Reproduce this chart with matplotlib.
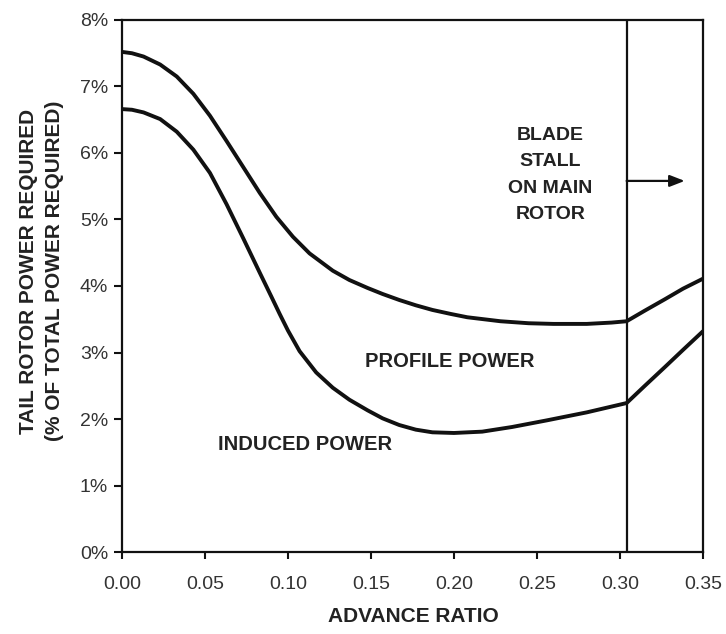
import matplotlib
matplotlib.use("Agg")
import matplotlib.pyplot as plt
from matplotlib.ticker import FuncFormatter

plt.rcParams['font.family'] = ['Liberation Sans', 'DejaVu Sans']

# Advance ratio samples and tail rotor power (% of total power)
total_mu = [0.000, 0.006, 0.013, 0.023, 0.033, 0.043, 0.053, 0.063, 0.073, 0.083,
            0.093, 0.103, 0.113, 0.127, 0.137, 0.148, 0.157, 0.167, 0.177, 0.187,
            0.198, 0.208, 0.218, 0.228, 0.245, 0.260, 0.280, 0.295, 0.304, 0.315,
            0.327, 0.338, 0.350]
total_pct = [7.52, 7.50, 7.45, 7.33, 7.15, 6.89, 6.56, 6.18, 5.79, 5.40,
             5.04, 4.74, 4.49, 4.23, 4.09, 3.97, 3.88, 3.79, 3.71, 3.64,
             3.58, 3.53, 3.50, 3.47, 3.44, 3.43, 3.43, 3.45, 3.47, 3.63,
             3.80, 3.96, 4.11]

induced_mu = [0.000, 0.006, 0.013, 0.023, 0.033, 0.043, 0.053, 0.063, 0.073, 0.083,
              0.090, 0.095, 0.100, 0.107, 0.117, 0.127, 0.137, 0.148, 0.157, 0.167,
              0.177, 0.187, 0.200, 0.217, 0.235, 0.256, 0.280, 0.304, 0.315, 0.327,
              0.338, 0.350]
induced_pct = [6.66, 6.65, 6.61, 6.51, 6.32, 6.05, 5.70, 5.23, 4.72, 4.20,
               3.84, 3.58, 3.33, 3.02, 2.70, 2.47, 2.29, 2.13, 2.01, 1.91,
               1.84, 1.80, 1.79, 1.81, 1.88, 1.98, 2.10, 2.24, 2.50, 2.78,
               3.04, 3.32]

stall_mu = 0.304
x_ticks = [0.00, 0.05, 0.10, 0.15, 0.20, 0.25, 0.30, 0.35]
y_ticks = [0, 1, 2, 3, 4, 5, 6, 7, 8]

fig = plt.figure(figsize=(7.26, 6.34), dpi=100)
ax = fig.add_axes([0.168, 0.1293, 0.8003, 0.8392])

ink = '#111111'
ax.plot(total_mu, total_pct, color=ink, lw=2.8, solid_capstyle='round', solid_joinstyle='round')
ax.plot(induced_mu, induced_pct, color=ink, lw=2.8, solid_capstyle='round', solid_joinstyle='round')
ax.axvline(stall_mu, color=ink, lw=1.6)

ax.set_xlim(0, 0.35)
ax.set_ylim(0, 8)
ax.set_xticks(x_ticks)
ax.set_yticks(y_ticks)
ax.xaxis.set_major_formatter(FuncFormatter(lambda v, p: f"{v:.2f}"))
ax.yaxis.set_major_formatter(FuncFormatter(lambda v, p: f"{int(round(v))}%"))
ax.tick_params(axis='x', direction='out', length=5, width=1.5, pad=12,
               labelsize=14, labelcolor='#333333', color=ink)
ax.tick_params(axis='y', direction='out', length=6, width=1.5, pad=4,
               labelsize=14, labelcolor='#333333', color=ink)
for s in ax.spines.values():
    s.set_linewidth(1.6)
    s.set_color(ink)

ax.set_xlabel('ADVANCE RATIO', fontsize=15, fontweight='bold', color='#222222')
ax.xaxis.set_label_coords(0.502, -0.104)
ax.set_ylabel('TAIL ROTOR POWER REQUIRED\n(% OF TOTAL POWER REQUIRED)',
              fontsize=15, fontweight='bold', color='#222222', linespacing=1.45)
ax.yaxis.set_label_coords(-0.100, 0.528)

ax.text(0.1976, 2.86, 'PROFILE POWER', fontsize=14.5, fontweight='bold',
        ha='center', va='center', color='#222222')
ax.text(0.110, 1.62, 'INDUCED POWER', fontsize=14.5, fontweight='bold',
        ha='center', va='center', color='#222222')
ax.text(0.258, 5.67, 'BLADE\nSTALL\nON MAIN\nROTOR', fontsize=14, fontweight='bold',
        ha='center', va='center', color='#222222', linespacing=1.72)

ax.annotate('', xy=(0.339, 5.58), xytext=(stall_mu, 5.58),
            arrowprops=dict(arrowstyle='-|>,head_length=0.9,head_width=0.35',
                            color=ink, lw=1.6, shrinkA=0, shrinkB=0))

fig.savefig('out.png', dpi=100)
